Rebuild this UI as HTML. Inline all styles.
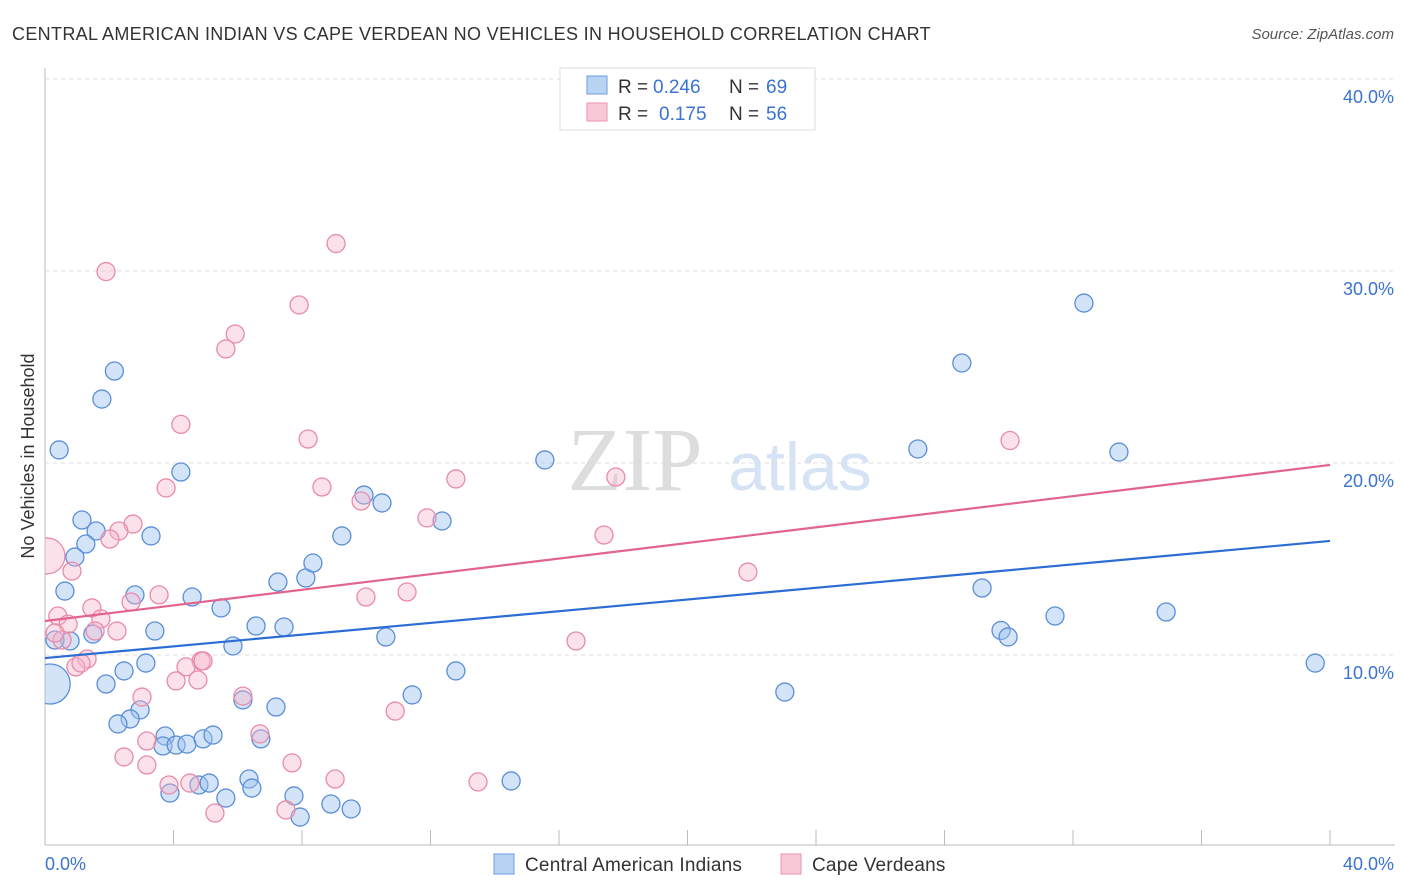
<!DOCTYPE html>
<html><head><meta charset="utf-8"><style>
body{margin:0;background:#fff;font-family:"Liberation Sans",sans-serif;}
</style></head><body>
<svg id="c" width="1406" height="892" xmlns="http://www.w3.org/2000/svg" style="display:block">
<defs><clipPath id="pa"><rect x="45" y="60" width="1360" height="785"/></clipPath></defs>
<text x="12" y="40" font-size="18" fill="#333" letter-spacing="0.33">CENTRAL AMERICAN INDIAN VS CAPE VERDEAN NO VEHICLES IN HOUSEHOLD CORRELATION CHART</text>
<text x="1394" y="39" font-size="15" fill="#555" text-anchor="end" font-style="italic">Source: ZipAtlas.com</text>
<text x="635" y="490" font-size="90" fill="#ddd" font-family="Liberation Serif,serif" text-anchor="middle">ZIP</text>
<text x="800" y="490" font-size="68" fill="#d5e3f5" text-anchor="middle">atlas</text>
<text transform="translate(34,456) rotate(-90)" font-size="18" fill="#333" text-anchor="middle">No Vehicles in Household</text>
<g id="grid"></g><g id="pts" clip-path="url(#pa)"></g><g id="lines"></g>
<g>
<rect x="560" y="68" width="255" height="62" fill="#fff" stroke="#ddd"/>
<rect x="587" y="76" width="20" height="18" fill="#b9d3f3" stroke="#6b9be0"/>
<rect x="587" y="103" width="20" height="18" fill="#f9c8d6" stroke="#eb93ae"/>
<text x="618" y="93" font-size="19" fill="#333">R =</text><text x="653" y="93" font-size="19" fill="#3a73d0">0.246</text>
<text x="729" y="93" font-size="19" fill="#333">N =</text><text x="766" y="93" font-size="19" fill="#3a73d0">69</text>
<text x="618" y="120" font-size="19" fill="#333">R =</text><text x="659" y="120" font-size="19" fill="#3a73d0">0.175</text>
<text x="729" y="120" font-size="19" fill="#333">N =</text><text x="766" y="120" font-size="19" fill="#3a73d0">56</text>
</g>
<g>
<rect x="494" y="854" width="20" height="20" fill="#b9d3f3" stroke="#6b9be0"/>
<text x="525" y="871" font-size="19" fill="#333" letter-spacing="0.2">Central American Indians</text>
<rect x="781" y="854" width="20" height="20" fill="#f9c8d6" stroke="#eb93ae"/>
<text x="812" y="871" font-size="19" fill="#333" letter-spacing="0.2">Cape Verdeans</text>
</g>
<text x="45" y="870" font-size="18" fill="#3a73d0">0.0%</text>
<text x="1394" y="870" font-size="18" fill="#3a73d0" text-anchor="end">40.0%</text>
</svg>
<script>
const yTicks=[10,20,30,40];
const blueX=[0.44,2.16,1.77,1.15,1.59,1.27,0.93,0.62,3.30,4.23,2.80,4.58,3.42,5.48,1.49,0.78,0.31,3.14,2.46,1.90,2.96,2.65,2.27,3.74,3.67,4.08,4.42,4.92,5.23,5.85,6.57,7.44,7.25,8.12,8.34,9.24,9.93,10.49,12.36,10.61,11.43,12.79,6.16,7.19,6.72,3.89,4.79,5.11,5.63,6.35,6.44,7.75,7.94,8.90,9.53,14.51,15.56,27.17,28.54,32.34,33.43,29.17,31.44,29.76,29.98,34.90,39.54,23.03,0.16];
const blueY=[20.68,24.79,23.33,17.03,16.46,15.78,15.10,13.33,16.20,19.53,13.13,13.02,11.25,12.45,11.09,10.73,10.78,9.58,9.17,8.49,7.14,6.67,6.41,5.78,5.26,5.31,5.36,5.63,5.83,10.47,11.51,11.46,13.80,14.01,14.79,16.20,18.33,17.92,16.98,10.94,7.92,9.17,7.66,7.29,5.63,2.81,3.23,3.33,2.55,3.54,3.07,2.66,1.56,2.24,1.98,3.44,20.16,20.73,25.21,28.33,20.57,13.49,12.03,11.28,10.94,12.24,9.58,8.07,8.49];
const blueR=[9,9,9,9,9,9,9,9,9,9,9,9,9,9,9,9,9,9,9,9,9,9,9,9,9,9,9,9,9,9,9,9,9,9,9,9,9,9,9,9,9,9,9,9,9,9,9,9,9,9,9,9,9,9,9,9,9,9,9,9,9,9,9,9,9,9,9,9,20];
const pinkX=[0.06,1.90,9.06,7.91,5.92,5.63,4.23,8.19,3.77,8.62,9.84,12.79,17.77,30.04,2.74,2.30,2.02,11.89,17.40,0.84,3.55,2.68,9.99,11.27,21.88,0.40,1.46,1.74,0.72,1.56,2.24,0.53,0.31,1.31,0.96,1.12,4.86,4.39,4.92,4.08,4.76,3.02,6.16,6.69,3.17,2.46,3.17,7.69,10.90,16.53,3.86,4.51,9.03,13.48,5.29,7.50];
const pinkY=[15.16,29.97,31.43,28.23,26.72,25.94,22.01,21.25,18.70,18.75,18.02,19.17,19.27,21.17,16.82,16.46,16.04,17.14,16.25,14.37,13.13,12.76,13.02,13.28,14.32,12.03,12.45,11.88,11.61,11.25,11.25,10.78,11.15,9.79,9.38,9.58,9.69,9.38,9.69,8.65,8.70,7.81,7.86,5.89,5.52,4.69,4.27,4.38,7.08,10.73,3.23,3.33,3.54,3.39,1.77,1.93];
const pinkR=[18,9,9,9,9,9,9,9,9,9,9,9,9,9,9,9,9,9,9,9,9,9,9,9,9,9,9,9,9,9,9,9,9,9,9,9,9,9,9,9,9,9,9,9,9,9,9,9,9,9,9,9,9,9,9,9,9];
const blueTrend=[9.84,15.94];
const pinkTrend=[11.77,19.9];
const X=v=>45+v*1285/40, Y=v=>847-v*19.2;
const NS="http://www.w3.org/2000/svg";
function mk(t,a,p){const e=document.createElementNS(NS,t);for(const k in a)e.setAttribute(k,a[k]);p.appendChild(e);return e;}
const grid=document.getElementById('grid');
mk('line',{x1:45,y1:68,x2:45,y2:845,stroke:'#bbb'},grid);
mk('line',{x1:45,y1:845,x2:1395,y2:845,stroke:'#bbb'},grid);
for(let i=1;i<=10;i++){mk('line',{x1:X(i*4),y1:830,x2:X(i*4),y2:845,stroke:'#bbb'},grid);}
yTicks.forEach(t=>{
 const l=mk('line',{x1:45,y1:Y(t),x2:1395,y2:Y(t),stroke:'#ddd','stroke-dasharray':'4 4'},grid);
 
 
 const tx=mk('text',{x:1394,y:Y(t)+24,'font-size':18,fill:'#3a73d0','text-anchor':'end'},grid);
 tx.textContent=t.toFixed(1)+'%';
 
 
});
const pts=document.getElementById('pts');
blueX.forEach((v,i)=>{const c=mk('circle',{cx:X(v),cy:Y(blueY[i]),r:blueR[i],fill:'rgba(160,196,240,0.45)',stroke:'#5a8ed8','stroke-width':1.3},pts);
 
 });
pinkX.forEach((v,i)=>{const c=mk('circle',{cx:X(v),cy:Y(pinkY[i]),r:pinkR[i],fill:'rgba(246,182,202,0.4)',stroke:'#e98aa9','stroke-width':1.3},pts);
 
 });
const lines=document.getElementById('lines');
const bl=mk('line',{x1:X(0),y1:Y(blueTrend[0]),x2:X(40),y2:Y(blueTrend[1]),stroke:'#2b6dd4','stroke-width':2.2},lines);


const pl=mk('line',{x1:X(0),y1:Y(pinkTrend[0]),x2:X(40),y2:Y(pinkTrend[1]),stroke:'#e2638f','stroke-width':2.2},lines);


</script>
</body></html>
